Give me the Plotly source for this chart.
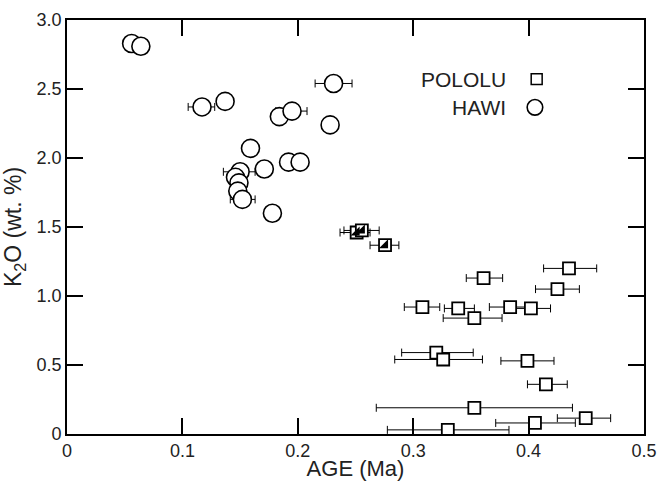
import plotly.graph_objects as go

# ---- data ----
hawi_age = [0.056, 0.064, 0.117, 0.137, 0.184, 0.195, 0.231, 0.228, 0.159, 0.192,
            0.202, 0.171, 0.150, 0.146, 0.149, 0.148, 0.152, 0.178]
hawi_k2o = [2.83, 2.81, 2.37, 2.41, 2.30, 2.34, 2.54, 2.24, 2.07, 1.97,
            1.97, 1.92, 1.90, 1.86, 1.82, 1.76, 1.70, 1.60]
hawi_err_minus = [None, None, 0.012, None, None, 0.014, 0.016, None, None, None,
                  None, None, 0.0145, None, None, None, 0.0105, None]
hawi_err_plus = [None, None, 0.011, None, None, 0.013, 0.016, None, None, None,
                 None, None, 0.013, None, None, None, 0.011, None]

pololu_age = [0.361, 0.435, 0.425, 0.308, 0.339, 0.353, 0.384, 0.402, 0.320, 0.326,
              0.399, 0.415, 0.353, 0.4055, 0.4495, 0.330]
pololu_k2o = [1.13, 1.20, 1.05, 0.92, 0.91, 0.84, 0.92, 0.91, 0.59, 0.54,
              0.53, 0.36, 0.19, 0.08, 0.115, 0.03]
pololu_err_minus = [0.015, 0.022, 0.019, 0.0157, 0.012, 0.027, 0.018, 0.014, 0.030, 0.042,
                    0.023, 0.016, 0.085, 0.034, 0.0246, 0.0524]
pololu_err_plus = [0.0165, 0.024, 0.019, 0.015, 0.014, 0.024, 0.014, 0.017, 0.032, 0.034,
                   0.023, 0.0185, 0.085, 0.035, 0.0216, 0.053]

trans_age = [0.251, 0.2555, 0.2756]
trans_k2o = [1.46, 1.475, 1.368]
trans_err_minus = [0.0144, 0.0155, 0.013]
trans_err_plus = [0.0116, 0.015, 0.012]

x_tick_vals = [0, 0.1, 0.2, 0.3, 0.4, 0.5]
x_tick_text = ["0", "0.1", "0.2", "0.3", "0.4", "0.5"]
y_tick_vals = [0, 0.5, 1.0, 1.5, 2.0, 2.5, 3.0]
y_tick_text = ["0", "0.5", "1.0", "1.5", "2.0", "2.5", "3.0"]

legend_labels = ["POLOLU", "HAWI"]

FONT = "Liberation Sans"
BLACK = "black"
TXT = "#222222"

fig = go.Figure()

# Pololu squares
fig.add_trace(go.Scatter(
    x=pololu_age, y=pololu_k2o, mode="markers", showlegend=False,
    marker=dict(symbol="square", size=12, color="white",
                line=dict(color=BLACK, width=1.8)),
    error_x=dict(type="data", symmetric=False, array=pololu_err_plus,
                 arrayminus=pololu_err_minus, color=BLACK, thickness=1, width=4),
))

# transitional half-filled squares
fig.add_trace(go.Scatter(
    x=trans_age, y=trans_k2o, mode="markers", showlegend=False,
    marker=dict(symbol="square", size=12, color="white",
                line=dict(color=BLACK, width=1.8)),
    error_x=dict(type="data", symmetric=False, array=trans_err_plus,
                 arrayminus=trans_err_minus, color=BLACK, thickness=1, width=4),
))
fig.add_trace(go.Scatter(
    x=trans_age, y=trans_k2o, mode="markers", showlegend=False,
    marker=dict(symbol="triangle-se", size=10, color=BLACK,
                line=dict(color=BLACK, width=0)),
))

# Hawi circles
fig.add_trace(go.Scatter(
    x=hawi_age, y=hawi_k2o, mode="markers", showlegend=False,
    marker=dict(symbol="circle", size=18, color="white",
                line=dict(color=BLACK, width=1.6)),
    error_x=dict(type="data", symmetric=False, array=hawi_err_plus,
                 arrayminus=hawi_err_minus, color=BLACK, thickness=1, width=4),
))

fig.update_layout(
    width=658, height=481,
    margin=dict(l=67, r=14, t=20, b=47),
    plot_bgcolor="white",
    showlegend=False,
)
fig.update_xaxes(
    range=[0, 0.5], tickvals=x_tick_vals, ticktext=x_tick_text,
    ticks="inside", ticklen=16, tickwidth=2, tickcolor="black",
    showline=True, linecolor="black", linewidth=1.6, mirror="ticks",
    automargin=False,
    tickfont=dict(family=FONT, size=18, color=TXT),
    title=dict(text="AGE (Ma)", font=dict(family=FONT, size=22, color=TXT)),
)
fig.update_yaxes(
    range=[0, 3.0], tickvals=y_tick_vals, ticktext=y_tick_text,
    ticks="inside", ticklen=16, tickwidth=2, tickcolor="black",
    showline=True, linecolor="black", linewidth=1.6, mirror="ticks",
    automargin=False,
    tickfont=dict(family=FONT, size=18, color=TXT),
    title=dict(text="K<sub>2</sub>O (wt. %)", font=dict(family=FONT, size=23, color=TXT)),
)

# legend: text followed by symbol
fig.add_annotation(text=legend_labels[0], x=0.765, y=0.857, xref="paper", yref="paper",
                   xanchor="right", yanchor="middle", showarrow=False,
                   font=dict(family=FONT, size=21, color=TXT))
fig.add_annotation(text=legend_labels[1], x=0.765, y=0.789, xref="paper", yref="paper",
                   xanchor="right", yanchor="middle", showarrow=False,
                   font=dict(family=FONT, size=21, color=TXT))
fig.add_shape(type="rect", xref="paper", yref="paper",
              x0=0.814 - 0.0095, x1=0.814 + 0.0095, y0=0.857 - 0.013, y1=0.857 + 0.013,
              line=dict(color=BLACK, width=1.5), fillcolor="white")
fig.add_shape(type="circle", xref="paper", yref="paper",
              x0=0.811 - 0.0135, x1=0.811 + 0.0135, y0=0.789 - 0.0188, y1=0.789 + 0.0188,
              line=dict(color=BLACK, width=1.6), fillcolor="white")

fig.write_html("out.html")
